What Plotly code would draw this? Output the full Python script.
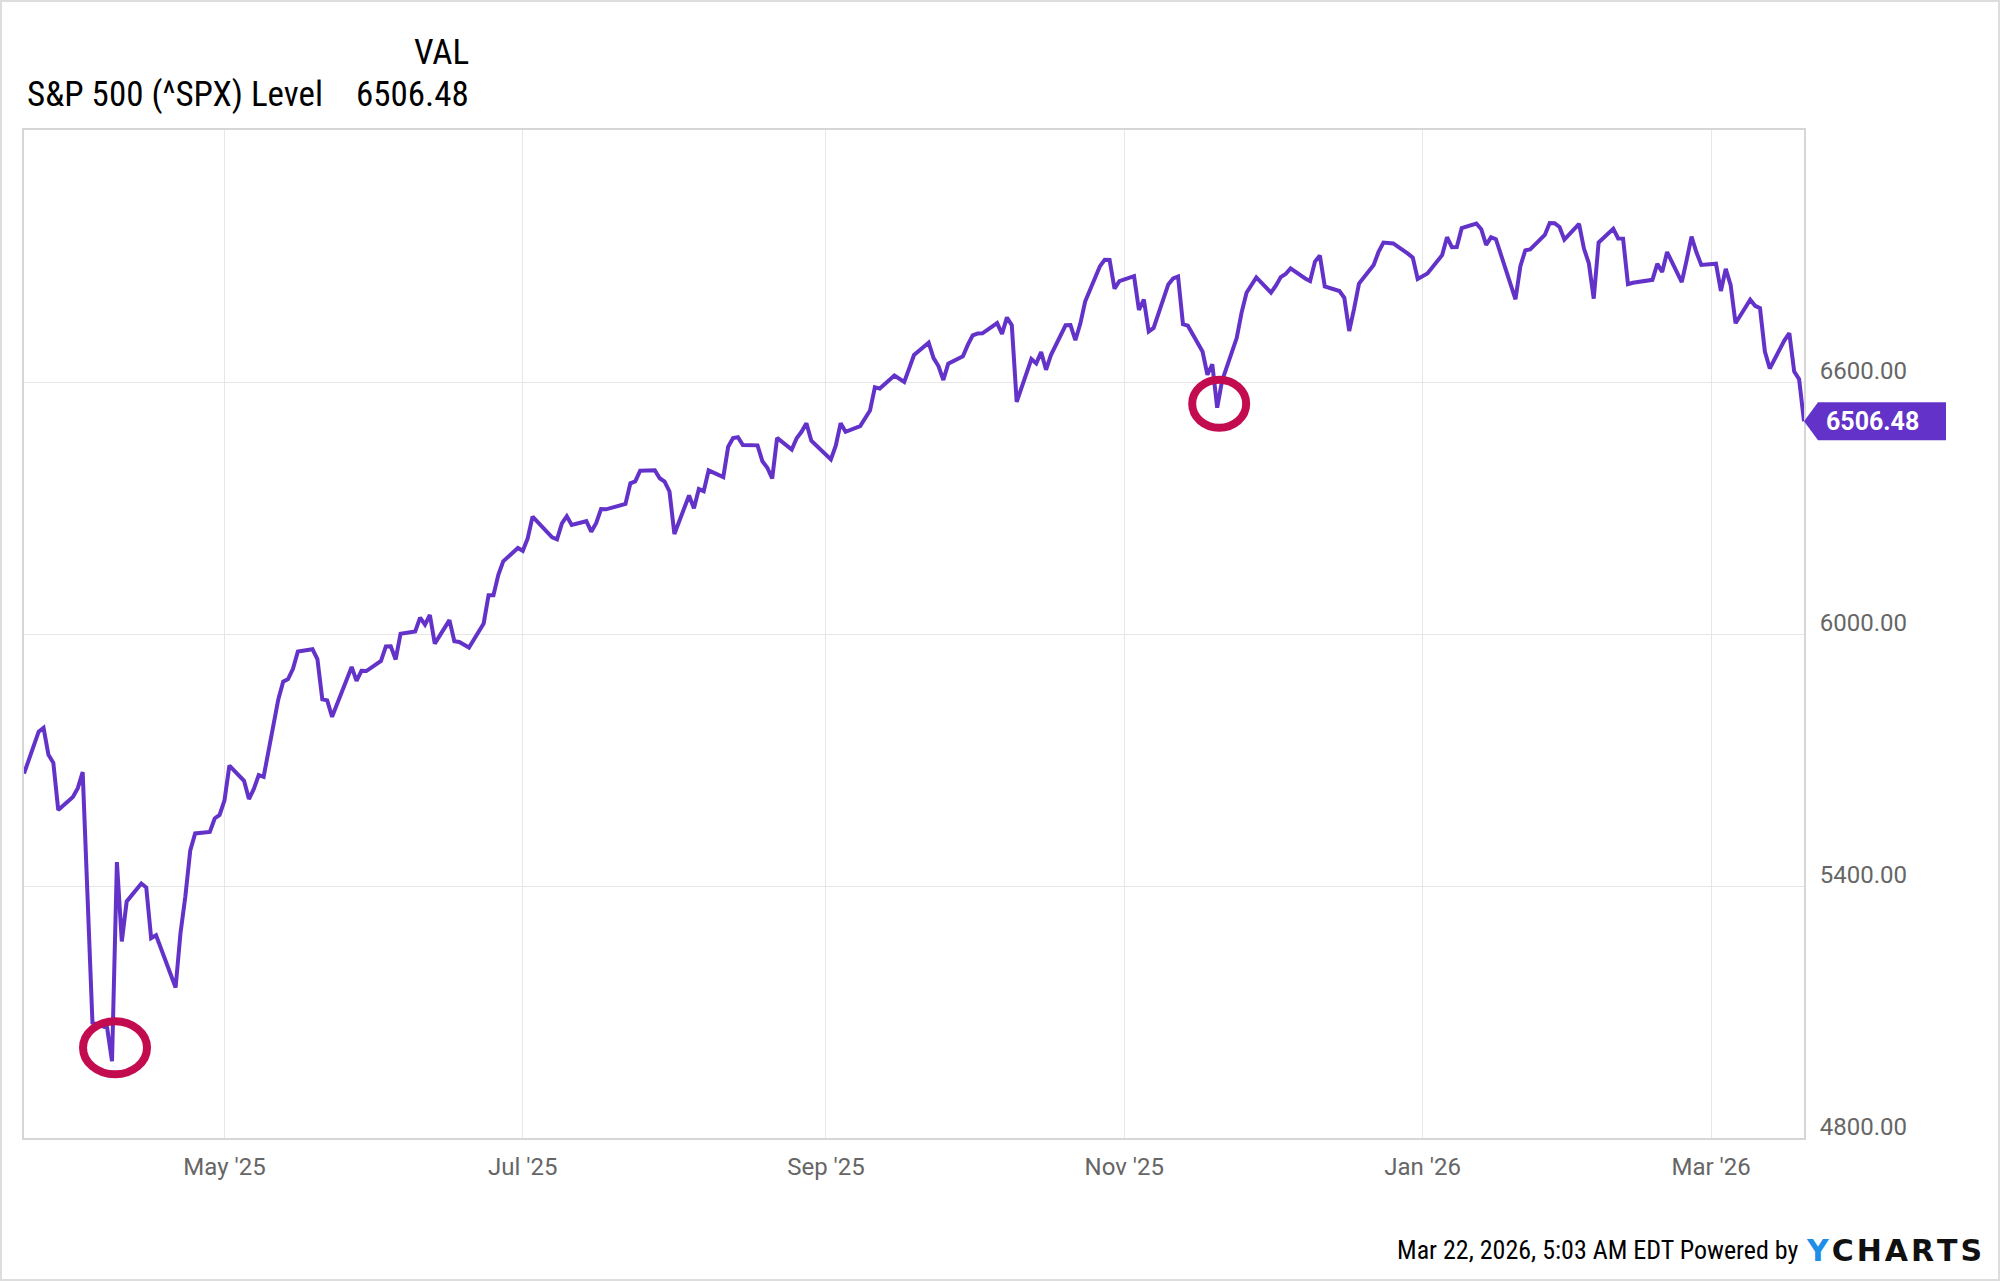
import pandas as pd
import plotly.graph_objects as go

# ====== data (S&P 500 daily close) ======

START = "2025-03-21"
END = "2026-03-20"
HOLIDAYS = ["2025-04-18", "2025-05-26", "2025-06-19", "2025-07-04", "2025-09-01",
            "2025-11-27", "2025-12-25", "2026-01-01", "2026-01-19", "2026-02-16"]

spx_2025_03 = [5667.56, 5767.57, 5776.65, 5712.20, 5693.31, 5580.94, 5611.85]
spx_2025_04 = [5633.07, 5670.97, 5396.52, 5074.08, 5062.25, 4982.77, 5456.90, 5268.05,
               5363.36, 5405.97, 5396.63, 5275.70, 5282.70, 5158.20, 5287.76, 5375.86,
               5484.77, 5525.21, 5528.75, 5560.83, 5569.06]
spx_2025_05 = [5604.14, 5686.67, 5650.38, 5606.91, 5631.28, 5663.94, 5659.91, 5844.19,
               5886.55, 5892.58, 5916.93, 5958.38, 5963.60, 5940.46, 5844.61, 5842.01,
               5802.82, 5921.54, 5888.55, 5912.17, 5911.69]
spx_2025_06 = [5935.94, 5970.37, 5970.81, 5939.30, 6000.36, 6005.88, 6038.81, 6022.24,
               6045.26, 5976.97, 6033.11, 5982.72, 5980.87, 5967.84, 6025.17, 6092.18,
               6092.16, 6141.02, 6173.07, 6204.95]
spx_2025_07 = [6198.01, 6227.42, 6279.35, 6229.98, 6225.52, 6263.26, 6280.46, 6259.75,
               6268.56, 6243.76, 6263.70, 6297.36, 6296.79, 6305.60, 6309.62, 6358.91,
               6363.35, 6388.64, 6389.77, 6370.86, 6362.90, 6339.39]
spx_2025_08 = [6238.01, 6329.94, 6299.19, 6345.06, 6340.00, 6389.45, 6373.45, 6445.76,
               6466.58, 6468.54, 6449.80, 6449.15, 6411.37, 6395.78, 6370.17, 6466.91,
               6439.32, 6465.94, 6481.40, 6501.86, 6460.26]
spx_2025_09 = [6415.54, 6448.26, 6502.08, 6481.50, 6495.15, 6512.61, 6532.04, 6587.47,
               6584.29, 6615.28, 6606.76, 6600.35, 6631.96, 6664.36, 6693.75, 6656.92,
               6637.97, 6604.72, 6643.70, 6661.21, 6688.46]
spx_2025_10 = [6711.20, 6715.35, 6715.79, 6740.28, 6714.59, 6753.72, 6735.11, 6552.51,
               6654.72, 6644.31, 6671.06, 6629.07, 6664.01, 6735.13, 6735.35, 6699.40,
               6738.44, 6791.69, 6875.16, 6890.89, 6890.59, 6822.34, 6840.20]
spx_2025_11 = [6851.97, 6771.55, 6796.29, 6720.32, 6728.80, 6832.43, 6846.61, 6850.92,
               6737.49, 6734.11, 6672.41, 6617.32, 6642.16, 6538.76, 6602.99, 6705.12,
               6765.88, 6812.61, 6849.09]
spx_2025_12 = [6812.63, 6829.37, 6849.72, 6857.12, 6870.40, 6846.51, 6840.51, 6886.68,
               6901.00, 6827.41, 6816.51, 6800.26, 6721.43, 6774.76, 6834.50, 6878.49,
               6909.79, 6932.05, 6929.94, 6905.74, 6896.24, 6845.50]
spx_2026_01 = [6858.47, 6902.05, 6944.82, 6920.93, 6921.46, 6966.28, 6977.27, 6963.74,
               6926.60, 6944.47, 6940.01, 6796.86, 6875.62, 6913.35, 6915.61, 6950.23,
               6978.60, 6978.03, 6969.01, 6939.03]
spx_2026_02 = [6976.44, 6917.81, 6882.72, 6798.40, 6932.30, 6964.82, 6941.81, 6941.47,
               6832.76, 6836.17, 6843.22, 6881.31, 6861.89, 6909.51, 6837.75, 6890.07,
               6946.13, 6908.86, 6878.88]
spx_2026_03 = [6881.62, 6816.63, 6869.50, 6830.71, 6740.02, 6795.99, 6781.48, 6775.80,
               6672.62, 6632.19, 6699.38, 6716.09, 6624.70, 6606.49, 6506.48]

Y_TICKS = [4800, 5400, 6000, 6600]
CIRCLED = ["2025-04-08", "2025-11-20"]   # hand drawn red marks

days = pd.bdate_range(START, END)
days = days[~days.isin(pd.to_datetime(HOLIDAYS))]
values = (spx_2025_03 + spx_2025_04 + spx_2025_05 + spx_2025_06 + spx_2025_07
          + spx_2025_08 + spx_2025_09 + spx_2025_10 + spx_2025_11 + spx_2025_12
          + spx_2026_01 + spx_2026_02 + spx_2026_03)
df = pd.DataFrame({"spx": values}, index=days)
last = df["spx"].iloc[-1]

PURPLE = "#6333c9"
RED = "#c30b4f"
W, H = 2000, 1281
ML, MR, MT, MB = 24, 196, 130, 143
PW, PH = W - ML - MR, H - MT - MB
HEAD_FONT = "Roboto Condensed, Liberation Sans Narrow, Arial Narrow, Roboto, sans-serif"

fig = go.Figure()

#====== line =======

fig.add_trace(go.Scatter(
    x=df.index,
    y=df["spx"],
    mode="lines",
    name="S&P 500 (^SPX) Level",
    line=dict(width=4, color=PURPLE),
    hoverinfo="skip",
))

#====== last value tag =======

fig.add_shape(
    type="path", xref="paper", yref="y",
    xsizemode="pixel", xanchor=1, ysizemode="pixel", yanchor=last,
    path="M 0 0 L 14 19 L 142 19 L 142 -19 L 14 -19 Z",
    fillcolor=PURPLE, line=dict(width=0), layer="above",
)
fig.add_annotation(
    xref="paper", x=1, xanchor="left", xshift=20,
    yref="y", y=last, yanchor="middle",
    text="<b>%.2f</b>" % last, showarrow=False,
    font=dict(family="Roboto", size=25, color="white"),
)

#====== red circles =======

circle_px = [(-29, 35, -13, 40), (-25, 29, -20, 28)]
for d, (x0, x1, y0, y1) in zip(CIRCLED, circle_px):
    fig.add_shape(
        type="circle", xref="x", yref="y",
        xsizemode="pixel", xanchor=d, x0=x0, x1=x1,
        ysizemode="pixel", yanchor=df.loc[d, "spx"], y0=y0, y1=y1,
        line=dict(color=RED, width=8), layer="above",
    )

#====== header / footer =======

hx = (471 - ML) / PW
fig.add_annotation(xref="paper", yref="paper", x=hx, y=1 + (MT - 52) / PH,
                   xanchor="right", yanchor="middle", showarrow=False, text="VAL",
                   font=dict(family=HEAD_FONT, size=35, color="black"))
fig.add_annotation(xref="paper", yref="paper", x=hx, y=1 + (MT - 95) / PH,
                   xanchor="right", yanchor="middle", showarrow=False,
                   text="%.2f" % last,
                   font=dict(family=HEAD_FONT, size=35, color="black"))
fig.add_annotation(xref="paper", yref="paper", x=(25 - ML) / PW, y=1 + (MT - 95) / PH,
                   xanchor="left", yanchor="middle", showarrow=False,
                   text="S&P 500 (^SPX) Level",
                   font=dict(family=HEAD_FONT, size=35, color="black"))

fig.add_annotation(xref="paper", yref="paper", x=(1801 - ML) / PW, y=-(1250 - MT - PH) / PH,
                   xanchor="right", yanchor="middle", showarrow=False,
                   text="Mar 22, 2026, 5:03 AM EDT Powered by",
                   font=dict(family=HEAD_FONT, size=26, color="black"))
fig.add_annotation(xref="paper", yref="paper", x=(1984 - ML) / PW, y=-(1250 - MT - PH) / PH,
                   xanchor="right", yanchor="middle", showarrow=False,
                   text="<span style='color:#1e8fe6'>Y</span>\u200aC\u200aH\u200aA\u200aR\u200aT\u200aS",
                   font=dict(family="DejaVu Sans", size=30, color="#111111", weight="bold"))

# thin frame round the whole picture
fig.add_shape(type="rect", xref="paper", yref="paper",
              x0=-(ML - 1) / PW, x1=1 + (MR - 1) / PW,
              y0=-(MB - 1) / PH, y1=1 + (MT - 1) / PH,
              line=dict(color="#dddddd", width=2))

fig.update_layout(
    width=W, height=H,
    margin=dict(l=ML, r=MR, t=MT, b=MB),
    paper_bgcolor="white",
    plot_bgcolor="white",
    showlegend=False,
    xaxis=dict(
        range=[df.index[0], df.index[-1]],
        tickformat="%b '%y", dtick="M2", tick0="2025-05-01",
        showgrid=True, gridcolor="#e6e6e6", gridwidth=1,
        showline=True, linecolor="#d6d6d6", linewidth=2, mirror=True,
        ticks="", ticklabelstandoff=6,
        tickfont=dict(family="Roboto", size=24, color="#666666"),
        zeroline=False,
    ),
    yaxis=dict(
        side="right", range=[4800, 7200],
        tickvals=Y_TICKS, ticktext=["%.2f" % v for v in Y_TICKS],
        showgrid=True, gridcolor="#e6e6e6", gridwidth=1,
        showline=True, linecolor="#d6d6d6", linewidth=2, mirror=True,
        ticks="", ticklabelstandoff=9, ticklabelshift=-11,
        tickfont=dict(family="Roboto", size=24, color="#666666"),
        zeroline=False,
    ),
)

fig.write_html("out.html", config={"displayModeBar": False},
               post_script="document.body.style.margin='0px';")
